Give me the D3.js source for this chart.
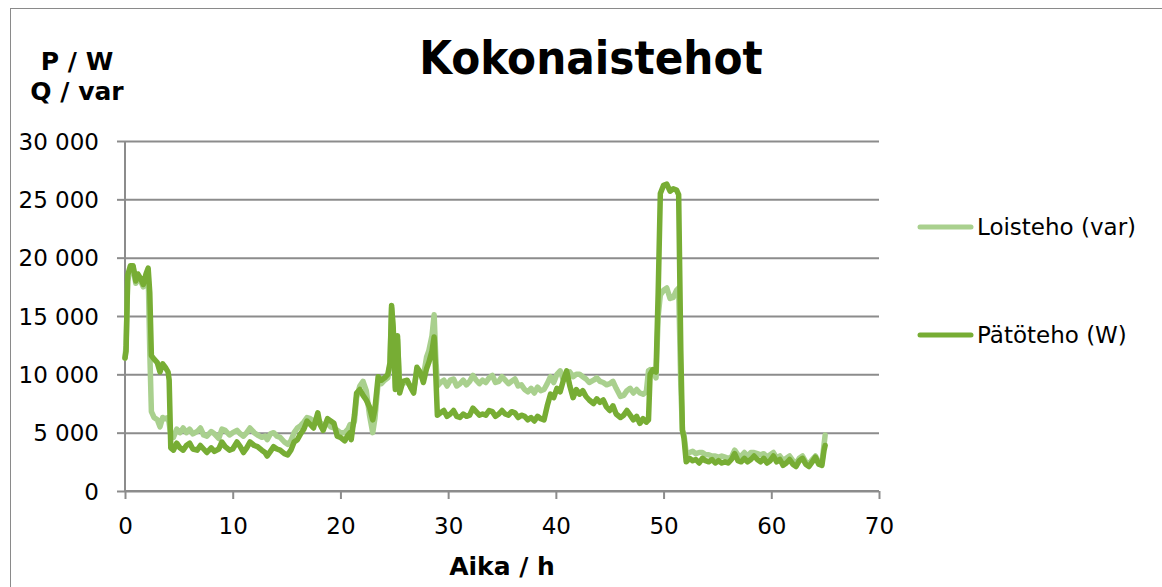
<!DOCTYPE html>
<html>
<head>
<meta charset="utf-8">
<script src="https://cdn.jsdelivr.net/npm/d3@7"></script>
<style>
  html, body { margin: 0; padding: 0; background: #fff; }
  svg { display: block; }
</style>
</head>
<body>
<svg id="chart" width="1162" height="587"></svg>
<script>
const hours = [0.0,0.1,0.25,0.5,0.75,1.0,1.2,1.45,1.7,1.95,2.15,2.3,2.45,2.7,3.0,3.25,3.5,3.75,4.0,4.1,4.25,4.5,4.8,5.1,5.4,5.7,6.0,6.3,6.7,7.0,7.3,7.6,8.0,8.3,8.7,9.0,9.3,9.7,10.0,10.4,10.7,11.0,11.3,11.6,12.0,12.3,12.7,13.0,13.2,13.5,13.8,14.1,14.4,14.8,15.1,15.4,15.7,16.0,16.3,16.6,16.9,17.2,17.5,17.9,18.1,18.4,18.8,19.1,19.4,19.7,20.0,20.4,20.7,20.9,21.0,21.3,21.5,21.8,22.1,22.4,22.7,23.0,23.2,23.5,23.8,24.1,24.4,24.6,24.75,24.9,25.1,25.3,25.5,25.8,26.2,26.5,26.8,27.1,27.4,27.7,28.0,28.2,28.5,28.7,28.85,29.0,29.3,29.6,29.9,30.2,30.5,30.8,31.1,31.4,31.7,32.0,32.3,32.6,32.9,33.2,33.5,33.8,34.1,34.4,34.7,35.0,35.3,35.6,35.9,36.2,36.5,36.8,37.1,37.4,37.7,38.0,38.3,38.6,38.9,39.2,39.5,39.8,40.1,40.4,40.7,41.0,41.3,41.6,41.9,42.2,42.5,42.8,43.1,43.5,43.8,44.1,44.4,44.7,45.0,45.3,45.6,46.0,46.3,46.6,46.9,47.2,47.5,47.8,48.1,48.4,48.6,48.75,49.0,49.3,49.5,49.7,50.0,50.3,50.6,50.9,51.2,51.4,51.6,51.75,51.9,52.1,52.4,52.7,53.0,53.3,53.6,53.9,54.2,54.5,54.8,55.1,55.4,55.7,56.0,56.3,56.6,56.9,57.2,57.5,57.8,58.1,58.4,58.7,59.0,59.3,59.6,59.9,60.2,60.5,60.8,61.1,61.4,61.7,62.0,62.3,62.6,62.9,63.2,63.5,63.8,64.1,64.4,64.7,64.9,65.0];

const patoteho = [11400,12000,18500,19300,19300,18000,18600,18200,17700,18600,19100,17000,11600,11300,11000,10200,10900,10600,10200,9500,3700,3500,4100,3700,3500,3900,4100,3600,3500,3900,3600,3300,3700,3400,3600,4200,3800,3500,3600,4200,3800,3300,3700,4200,3900,3800,3500,3300,3000,3400,3800,3600,3500,3200,3100,3500,4200,4400,4900,5300,6000,5700,5400,6700,5700,5200,6200,6000,5800,4700,4600,4300,4800,5000,4400,6500,8400,8700,8200,7800,7200,6100,7000,9800,9500,9700,10000,11000,15900,14000,8700,13300,8400,9400,9500,8900,8400,10600,10200,9300,10500,11000,12000,13200,10000,6500,6700,6900,6400,6600,6900,6400,6300,6600,6400,6500,7100,6800,6500,6600,6500,6900,6800,6400,6600,6900,6600,6500,6800,6700,6300,6500,6400,6100,6300,6000,6400,6200,6100,7300,8300,8000,8800,8500,9500,10300,9000,8000,8700,8300,8600,8100,7800,7500,7900,7600,7800,7200,6900,7300,6600,6300,6500,6900,6500,6100,6400,5800,6200,5900,6100,10000,10400,10200,17000,25500,26200,26300,25700,25900,25800,25400,12000,5200,4500,2500,2800,2600,2700,2400,2800,2600,2500,2700,2400,2600,2400,2500,2400,2700,3200,2600,2500,2800,2500,2700,3000,2700,2500,2800,2400,2600,3000,2500,2700,2200,2400,2700,2300,2100,2600,2800,2300,2100,2500,2900,2300,2200,3500,3900];

const loisteho = [11400,12500,18000,19000,19200,17800,18200,18000,17500,18200,18800,12000,6800,6300,6100,5500,6300,6200,6300,5800,4800,4600,5300,5000,5400,5000,5300,4900,5100,5400,4800,4700,5100,4900,4500,5300,5200,4800,5000,5200,4900,4700,5000,5400,5000,4800,4600,4700,4400,4900,5000,4700,4600,4200,4000,4300,5000,5400,5600,5900,6300,6200,6000,6200,5900,5600,5800,5500,5400,5200,5000,5000,5300,5700,5200,6000,8000,9000,9400,8600,6500,5000,6200,9300,9200,9500,9700,10800,15700,13800,8900,13000,8700,9300,9300,9000,8700,10300,10100,9800,11500,12000,13300,15100,11500,9000,9300,9500,9000,9500,9600,9000,9200,9500,9100,9400,9900,9500,9200,9500,9300,9700,9900,9300,9400,9800,9500,9200,9400,9600,9000,9100,8700,8500,8800,8400,8900,8600,8700,9200,9800,9300,10000,10300,9500,10000,10200,9800,10000,10000,9800,9600,9300,9500,9700,9400,9300,9100,9200,9400,8800,8100,8200,8600,8800,8400,8700,8400,8300,8500,10300,10400,10200,9700,15000,16800,17200,17400,16500,16600,17200,17400,9000,5200,4800,3200,3300,3400,3200,3300,3300,3100,3100,3000,3000,2900,3000,2900,2800,2900,3500,3100,3000,3300,3000,3300,3300,3200,3100,3200,2900,3100,3300,2800,3000,2600,2800,3000,2600,2400,2800,3000,2500,2300,2700,3000,2400,2400,4000,4800];

const seriesNames = ["Loisteho (var)", "Pätöteho (W)"];
const seriesColors = ["#a9d08e", "#77ad34"];
const xTicks = [0, 10, 20, 30, 40, 50, 60, 70];
const yTicks = [0, 5000, 10000, 15000, 20000, 25000, 30000];
const title = "Kokonaistehot";
const xTitle = "Aika / h";
const yTitleLines = ["P / W", "Q / var"];

const svg = d3.select("#chart");
const m = { left: 125, right: 879, top: 141, bottom: 491 };

// outer frame
svg.append("rect").attr("x", 10.5).attr("y", 8.5).attr("width", 1200).attr("height", 700)
  .attr("fill", "none").attr("stroke", "#8a8a8a").attr("stroke-width", 1);

const x = d3.scaleLinear().domain([0, 70]).range([m.left, m.right]);
const y = d3.scaleLinear().domain([0, 30000]).range([m.bottom, m.top]);

const fmt = v => d3.format(",")(v).replace(/,/g, " ");
const gridColor = "#8c8c8c";

// gridlines + y axis
const yAxis = d3.axisLeft(y).tickValues(yTicks).tickSize(8).tickFormat(fmt).tickPadding(18);
const gy = svg.append("g").attr("transform", `translate(${m.left},0)`).call(yAxis);
gy.select(".domain").remove();
gy.selectAll(".tick line").attr("x2", 0).attr("x1", -8).attr("stroke", gridColor).attr("stroke-width", 2);
gy.selectAll(".tick").append("line")
  .attr("x1", 0).attr("x2", m.right - m.left)
  .attr("stroke", gridColor).attr("stroke-width", 2);
gy.selectAll(".tick text")
  .attr("font-family", "DejaVu Sans, Verdana, sans-serif")
  .attr("font-size", 23).attr("fill", "#000").attr("dy", "0.36em").attr("x", -26);

svg.append("line").attr("x1", m.left).attr("x2", m.left).attr("y1", m.top).attr("y2", m.bottom)
  .attr("stroke", gridColor).attr("stroke-width", 2);

// x axis
const xAxis = d3.axisBottom(x).tickValues(xTicks).tickSize(8).tickPadding(19);
const gx = svg.append("g").attr("transform", `translate(0,${m.bottom})`).call(xAxis);
gx.select(".domain").attr("stroke", gridColor).attr("stroke-width", 2)
  .attr("d", `M${m.left},0H${m.right}`);
gx.selectAll(".tick line").attr("stroke", gridColor).attr("stroke-width", 2);
gx.selectAll(".tick text")
  .attr("font-family", "DejaVu Sans, Verdana, sans-serif")
  .attr("font-size", 23).attr("fill", "#000");

// lines
const data = [loisteho, patoteho];
const line = d3.line().x((d, i) => x(hours[i])).y(d => y(d)).curve(d3.curveLinear);
data.forEach((vals, k) => {
  svg.append("path").datum(vals)
    .attr("d", line)
    .attr("fill", "none")
    .attr("stroke", seriesColors[k])
    .attr("stroke-width", 5.5)
    .attr("stroke-linejoin", "round")
    .attr("stroke-linecap", "round");
});

// title
svg.append("text").attr("x", 591).attr("y", 74).attr("text-anchor", "middle")
  .attr("font-family", "DejaVu Sans Condensed, DejaVu Sans, sans-serif")
  .attr("font-stretch", "condensed")
  .attr("font-weight", "bold").attr("font-size", 47).attr("fill", "#000")
  .text(title);

// y title
yTitleLines.forEach((t, i) => {
  svg.append("text").attr("x", 77).attr("y", 70 + i * 30).attr("text-anchor", "middle")
    .attr("font-family", "DejaVu Sans, Verdana, sans-serif")
    .attr("font-weight", "bold").attr("font-size", 25).attr("fill", "#000")
    .text(t);
});

// x title
svg.append("text").attr("x", 502).attr("y", 575).attr("text-anchor", "middle")
  .attr("font-family", "DejaVu Sans, Verdana, sans-serif")
  .attr("font-weight", "bold").attr("font-size", 25).attr("fill", "#000")
  .text(xTitle);

// legend
const legY = [227, 335];
seriesNames.forEach((n, k) => {
  const g = svg.append("g");
  g.append("line").attr("x1", 920).attr("x2", 971).attr("y1", legY[k]).attr("y2", legY[k])
    .attr("stroke", seriesColors[k]).attr("stroke-width", 5).attr("stroke-linecap", "round");
  g.append("text").attr("x", 977).attr("y", legY[k]).attr("dy", "0.36em")
    .attr("font-family", "DejaVu Sans, Verdana, sans-serif")
    .attr("font-size", 23).attr("fill", "#000")
    .text(n);
});
</script>
</body>
</html>
